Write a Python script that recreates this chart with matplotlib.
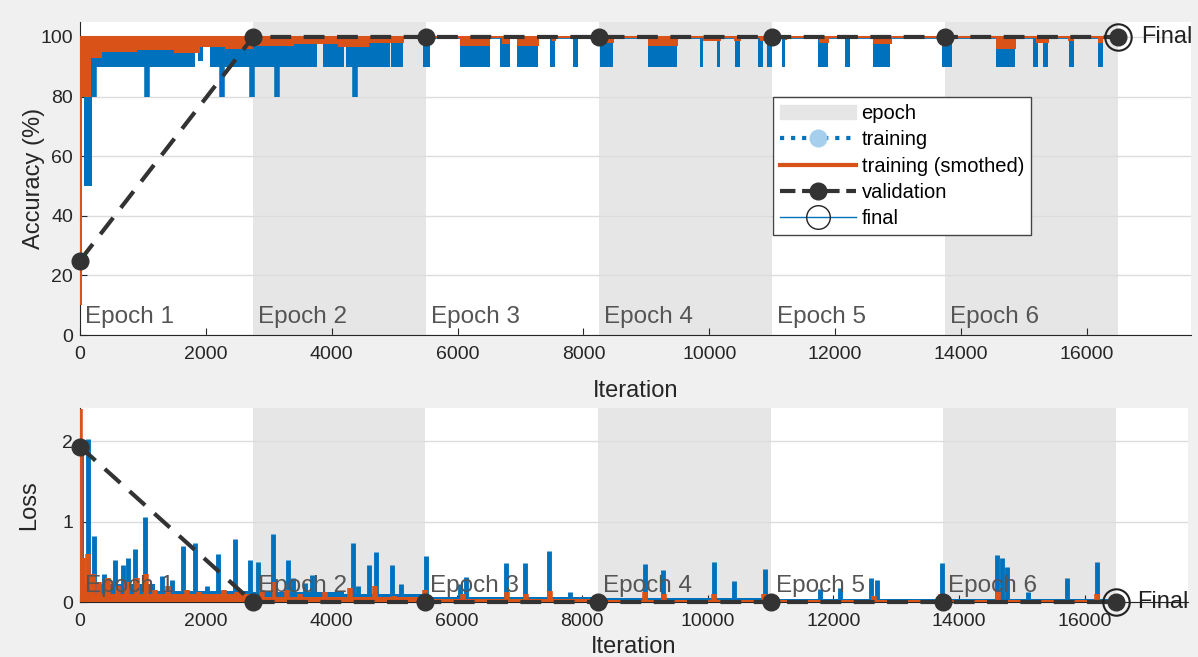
import numpy as np
import matplotlib
matplotlib.use('Agg')
from matplotlib import pyplot as plt
from matplotlib.lines import Line2D
from matplotlib.patches import Patch

plt.rcParams['font.family'] = ['Liberation Sans', 'DejaVu Sans']

# epochs
epoch_start = [0, 2750, 5500, 8250, 11000, 13750]
epoch_end = [2750, 5500, 8250, 11000, 13750, 16500]
epoch_names = ['Epoch 1', 'Epoch 2', 'Epoch 3', 'Epoch 4', 'Epoch 5', 'Epoch 6']

# validation / final
val_iter = [0, 2750, 5500, 8250, 11000, 13750, 16500]
val_acc = [25, 100, 100, 100, 100, 100, 100]
val_loss = [1.93, 0.0, 0.0, 0.0, 0.0, 0.0, 0.0]
final_iter = 16500
final_acc = 100
final_loss = 0.0

# training accuracy: blocks that dip below 100 (start, end, lowest value)
acc_blk_start = [60, 150, 1880, 2070, 2750, 3860, 4230, 4950, 5450, 6040, 6680, 6950, 7470,
                 7840, 8270, 9030, 9860, 10130, 10410, 10780, 10920, 11160, 11730, 12160,
                 12610, 13700, 14550, 15150, 15310, 15710, 16180]
acc_blk_end = [190, 1830, 1960, 2700, 3770, 4200, 4930, 5130, 5560, 6520, 6840, 7280, 7550,
               7920, 8470, 9490, 9900, 10170, 10490, 10860, 11000, 11210, 11890, 12240,
               12880, 13860, 14860, 15230, 15390, 15790, 16260]
acc_blk_low = [50, 90, 92, 90, 90, 90, 90, 90, 90, 90, 90, 90, 90,
               90, 90, 90, 90, 90, 90, 90, 90, 90, 90, 90,
               90, 90, 90, 90, 90, 90, 90]
# single deep dips of training accuracy
acc_dip_iter = [170, 230, 1065, 2257, 2735, 3130, 4370]
acc_dip_val = [80, 80, 80, 80, 80, 80, 80]

# smoothed accuracy blocks
sm_blk_start = [0, 30, 180, 350, 900, 1500, 1900, 2300, 2750, 3400, 4100, 4600, 5450, 6040,
                6700, 6950, 7500, 8300, 9030, 9900, 10400, 10800, 11200, 11750, 12600, 13700,
                14550, 15200, 15700, 16180]
sm_blk_end = [30, 180, 350, 900, 1500, 1900, 2300, 2750, 3400, 4100, 4600, 5150, 5560, 6520,
              6840, 7300, 7560, 8480, 9500, 10180, 10500, 11000, 11230, 11900, 12900, 13860,
              14870, 15400, 15800, 16260]
sm_blk_low = [10, 80, 93, 95, 95.5, 94.5, 96.5, 96, 97, 97.5, 96.5, 98, 97.5, 97,
              97.5, 97, 98.5, 98, 97, 98.5, 98.5, 98.5, 99, 98, 97.5, 98.5,
              96, 98, 98.5, 98]

# training loss spikes (iteration, height)
loss_sp_iter = [20, 120, 220, 375, 560, 680, 770, 880, 1030, 1310, 1470, 1645, 1835, 2030,
                2205, 2470, 2700, 2835, 3075, 3315, 3400, 3590, 3700, 4350, 4430, 4600, 4715,
                4970, 5120, 5505, 6050, 6150, 6780, 7095, 7470, 7800, 9005, 9280, 10090,
                10410, 10915, 11790, 12105, 12600, 12700, 13725, 14600, 14680, 14765, 15100,
                15715, 16195]
loss_sp_val = [1.85, 2.02, 0.82, 0.35, 0.52, 0.46, 0.55, 0.66, 1.05, 0.32, 0.27, 0.70, 0.73,
               0.20, 0.60, 0.78, 0.52, 0.50, 0.85, 0.52, 0.30, 0.24, 0.33, 0.73, 0.20, 0.46,
               0.62, 0.46, 0.22, 0.57, 0.22, 0.31, 0.49, 0.49, 0.63, 0.12, 0.47, 0.40, 0.50,
               0.26, 0.41, 0.16, 0.17, 0.30, 0.27, 0.49, 0.59, 0.55, 0.44, 0.13, 0.30, 0.50]
# dense low band of the raw loss (start, end, height)
loss_band_start = [0, 1200, 2750, 4200, 5500, 8250, 11000, 13750]
loss_band_end = [1200, 2750, 4200, 5500, 8250, 11000, 13750, 16500]
loss_band_h = [0.22, 0.14, 0.12, 0.10, 0.06, 0.05, 0.04, 0.04]

# smoothed loss bumps (iteration, height)
sm_loss_iter = [0, 50, 120, 200, 300, 450, 600, 750, 900, 1050, 1200, 1400, 1550, 1700, 1900,
                2100, 2300, 2500, 2650, 2900, 3100, 3300, 3500, 3900, 4300, 4700, 5000, 5500,
                6100, 6800, 7100, 7480, 9000, 9300, 10100, 10900, 12650, 13720, 14620, 16200]
sm_loss_val = [2.4, 0.55, 0.6, 0.35, 0.25, 0.3, 0.2, 0.25, 0.3, 0.35, 0.15, 0.2, 0.1, 0.15,
               0.12, 0.1, 0.15, 0.12, 0.08, 0.15, 0.25, 0.15, 0.1, 0.12, 0.18, 0.2, 0.08, 0.15,
               0.1, 0.12, 0.1, 0.14, 0.12, 0.1, 0.1, 0.1, 0.08, 0.1, 0.12, 0.1]
sm_band_start = [0, 2750, 5500, 8250]
sm_band_end = [2750, 5500, 8250, 16500]
sm_band_h = [0.1, 0.06, 0.04, 0.025]

blue = '#0072BD'
orange = '#D95319'
vcol = '#333333'
shade = '#e6e6e6'

fig = plt.figure(figsize=(11.98, 6.57), dpi=100)
fig.patch.set_facecolor('#f0f0f0')
ax1 = fig.add_axes([0.0668, 0.490, 0.927, 0.4764])
ax2 = fig.add_axes([0.0668, 0.0837, 0.925, 0.2953])


def style(ax, ylim, yticks):
    ax.set_xlim(0, 17650)
    ax.set_ylim(*ylim)
    ax.set_yticks(yticks)
    ax.set_xticks(np.arange(0, 16001, 2000))
    for s in ['top', 'right']:
        ax.spines[s].set_visible(False)
    for s in ['left', 'bottom']:
        ax.spines[s].set_color('#262626')
    ax.tick_params(direction='in', labelsize=14, colors='#262626', length=5, pad=5)
    ax.tick_params(axis='x', pad=8)
    ax.yaxis.grid(True, color='#dcdcdc', lw=1)
    ax.set_axisbelow(True)
    for k in range(len(epoch_start)):
        if k % 2 == 1:
            ax.axvspan(epoch_start[k], epoch_end[k], color=shade, lw=0, zorder=0)


# ---------- accuracy
style(ax1, (0, 105), [0, 20, 40, 60, 80, 100])
for k in range(len(epoch_start)):
    ax1.text(epoch_start[k] + 80, 4, epoch_names[k], fontsize=17.5, color='#555555',
             va='baseline', zorder=1)
ax1.plot([0, final_iter], [100, 100], color=blue, lw=2, zorder=2)
ax1.bar(acc_blk_start, np.subtract(100, acc_blk_low),
        width=np.subtract(acc_blk_end, acc_blk_start), bottom=acc_blk_low,
        align='edge', color=blue, lw=0, zorder=2)
ax1.vlines(acc_dip_iter, acc_dip_val, 100, color=blue, lw=4, zorder=2)
ax1.bar(sm_blk_start, np.subtract(100, sm_blk_low),
        width=np.subtract(sm_blk_end, sm_blk_start), bottom=sm_blk_low,
        align='edge', color=orange, lw=0, zorder=3)
ax1.plot([0, final_iter], [100, 100], color=orange, lw=1.5, zorder=3)
ax1.plot(val_iter, val_acc, '--', color=vcol, lw=3, dashes=(5, 3), marker='o', ms=12,
         zorder=5, clip_on=False)
ax1.plot(final_iter, final_acc, 'o', ms=19, mfc='none', mec='#222222', mew=1.5,
         zorder=6, clip_on=False)
ax1.text(final_iter + 360, final_acc, 'Final', fontsize=17, va='center', color='#222222')
ax1.set_ylabel('Accuracy (%)', fontsize=17, color='#262626', labelpad=-3)
ax1.set_xlabel('Iteration', fontsize=17, color='#262626', labelpad=12)

handles = [Patch(color=shade),
           Line2D([], [], color=blue, ls=':', lw=3, marker='o', ms=12, mfc='#a6cfee',
                  mec='#a6cfee'),
           Line2D([], [], color=orange, lw=3),
           Line2D([], [], color=vcol, ls='--', lw=3, marker='o', ms=12),
           Line2D([], [], color=blue, lw=1, marker='o', ms=17, mfc='none', mec='#222222')]
labels = ['epoch', 'training', 'training (smothed)', 'validation', 'final']
leg = ax1.legend(handles, labels, loc='upper left', bbox_to_anchor=(0.624, 0.760),
                 borderaxespad=0, fontsize=14.5, handlelength=3.75, labelspacing=0.36,
                 handletextpad=0.3, fancybox=False, framealpha=1, borderpad=0.35)
leg.get_frame().set_edgecolor('#444444')
leg.set_zorder(10)

# ---------- loss
style(ax2, (0, 2.41), [0, 1, 2])
for k in range(len(epoch_start)):
    ax2.text(epoch_start[k] + 80, 0.12, epoch_names[k], fontsize=17.5, color='#555555',
             va='baseline', zorder=4)
ax2.bar(loss_band_start, loss_band_h, width=np.subtract(loss_band_end, loss_band_start),
        align='edge', color=blue, lw=0, zorder=2)
ax2.vlines(loss_sp_iter, 0, loss_sp_val, color=blue, lw=3.5, zorder=2)
ax2.bar(sm_band_start, sm_band_h, width=np.subtract(sm_band_end, sm_band_start),
        align='edge', color=orange, lw=0, zorder=3)
ax2.vlines(sm_loss_iter, 0, sm_loss_val, color=orange, lw=4, zorder=3)
ax2.plot(val_iter, val_loss, '--', color=vcol, lw=3, dashes=(5, 3), marker='o', ms=12,
         zorder=5, clip_on=False)
ax2.plot(final_iter, final_loss, 'o', ms=19, mfc='none', mec='#222222', mew=1.5,
         zorder=6, clip_on=False)
ax2.text(final_iter + 330, final_loss, 'Final', fontsize=17, va='center', color='#222222')
ax2.set_ylabel('Loss', fontsize=17, color='#262626', labelpad=16)
ax2.set_xlabel('Iteration', fontsize=17, color='#262626', labelpad=4)

fig.savefig('out.png', dpi=100, facecolor=fig.get_facecolor())
